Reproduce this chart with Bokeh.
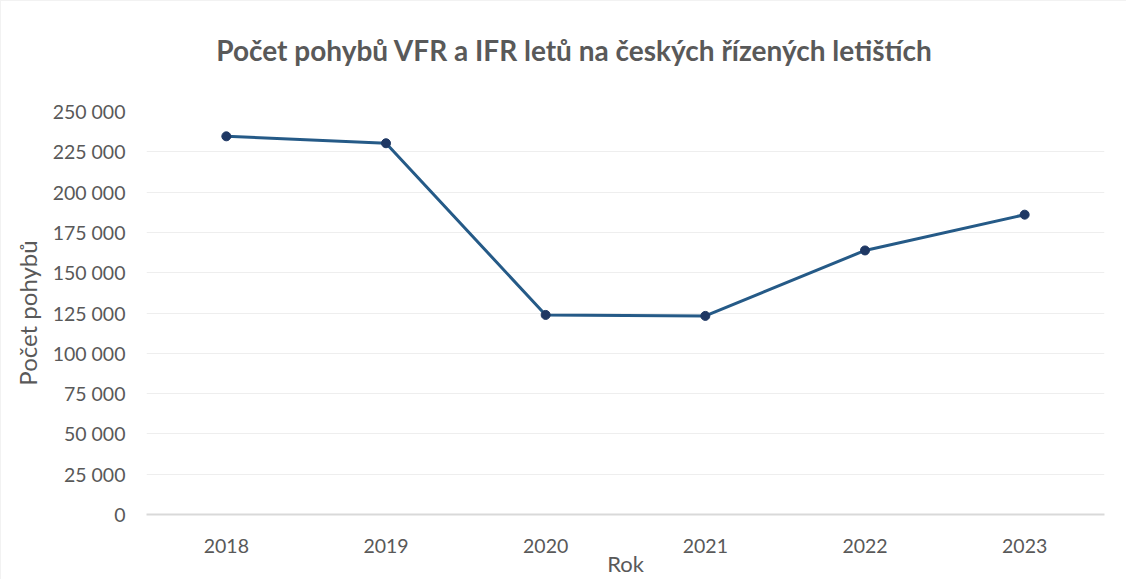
from bokeh.plotting import figure
from bokeh.embed import file_html
from bokeh.resources import INLINE
from bokeh.models import FixedTicker, ColumnDataSource, Range1d, Div
from bokeh.layouts import column

years = ["2018", "2019", "2020", "2021", "2022", "2023"]
movements = [234600, 230300, 123800, 123200, 163800, 186000]
y_ticks = [0, 25000, 50000, 75000, 100000, 125000, 150000, 175000, 200000, 225000, 250000]
y_tick_labels = {v: f"{v:,}".replace(",", " ") for v in y_ticks}

title_text = "Počet pohybů VFR a IFR letů na českých řízených letištích"
x_label = "Rok"
y_label = "Počet pohybů"

FONT = "Lato"
TXT = "#595959"

src = ColumnDataSource(dict(x=years, y=movements))

title_div = Div(text=title_text, width=1118, height=88,
                styles={"font-family": FONT, "font-weight": "bold", "font-size": "28px",
                        "color": TXT, "text-align": "center", "line-height": "88px",
                        "text-indent": "18px", "white-space": "nowrap"})

p = figure(width=1118, height=480, x_range=years, y_range=Range1d(0, y_ticks[-1]),
           output_backend="svg", toolbar_location=None, tools="",
           min_border_left=145, min_border_right=15, min_border_top=12, min_border_bottom=62)

p.line("x", "y", source=src, line_color="#255a87", line_width=3)
p.scatter("x", "y", source=src, size=9, fill_color="#1f3864", line_color="#1f3864")

p.outline_line_color = None
p.background_fill_color = "white"
p.border_fill_color = "white"

p.yaxis.ticker = FixedTicker(ticks=y_ticks)
p.yaxis.major_label_overrides = y_tick_labels
p.yaxis.axis_line_color = None
p.yaxis.major_tick_line_color = None
p.yaxis.minor_tick_line_color = None
p.yaxis.major_label_standoff = 15
p.yaxis.axis_label = y_label
p.yaxis.axis_label_standoff = 8

p.xaxis.axis_line_color = "#d9d9d9"
p.xaxis.axis_line_width = 2
p.xaxis.major_tick_line_color = None
p.xaxis.minor_tick_line_color = None
p.xaxis.major_label_standoff = 18
p.xaxis.axis_label = x_label
p.xaxis.axis_label_standoff = -6

for ax in (p.xaxis, p.yaxis):
    ax.major_label_text_font = FONT
    ax.major_label_text_font_size = "19.5px"
    ax.major_label_text_color = TXT
    ax.axis_label_text_font = FONT
    ax.axis_label_text_font_style = "normal"
    ax.axis_label_text_color = TXT
p.yaxis.axis_label_text_font_size = "24px"
p.xaxis.axis_label_text_font_size = "22px"

p.xgrid.grid_line_color = None
p.ygrid.grid_line_color = "#eeeeee"
p.ygrid.grid_line_width = 1

layout = column(title_div, p, spacing=0,
                styles={"border-left": "1px solid #f2f2f2", "border-top": "1px solid #f2f2f2"})

open("out.html", "w").write(file_html(layout, INLINE))
